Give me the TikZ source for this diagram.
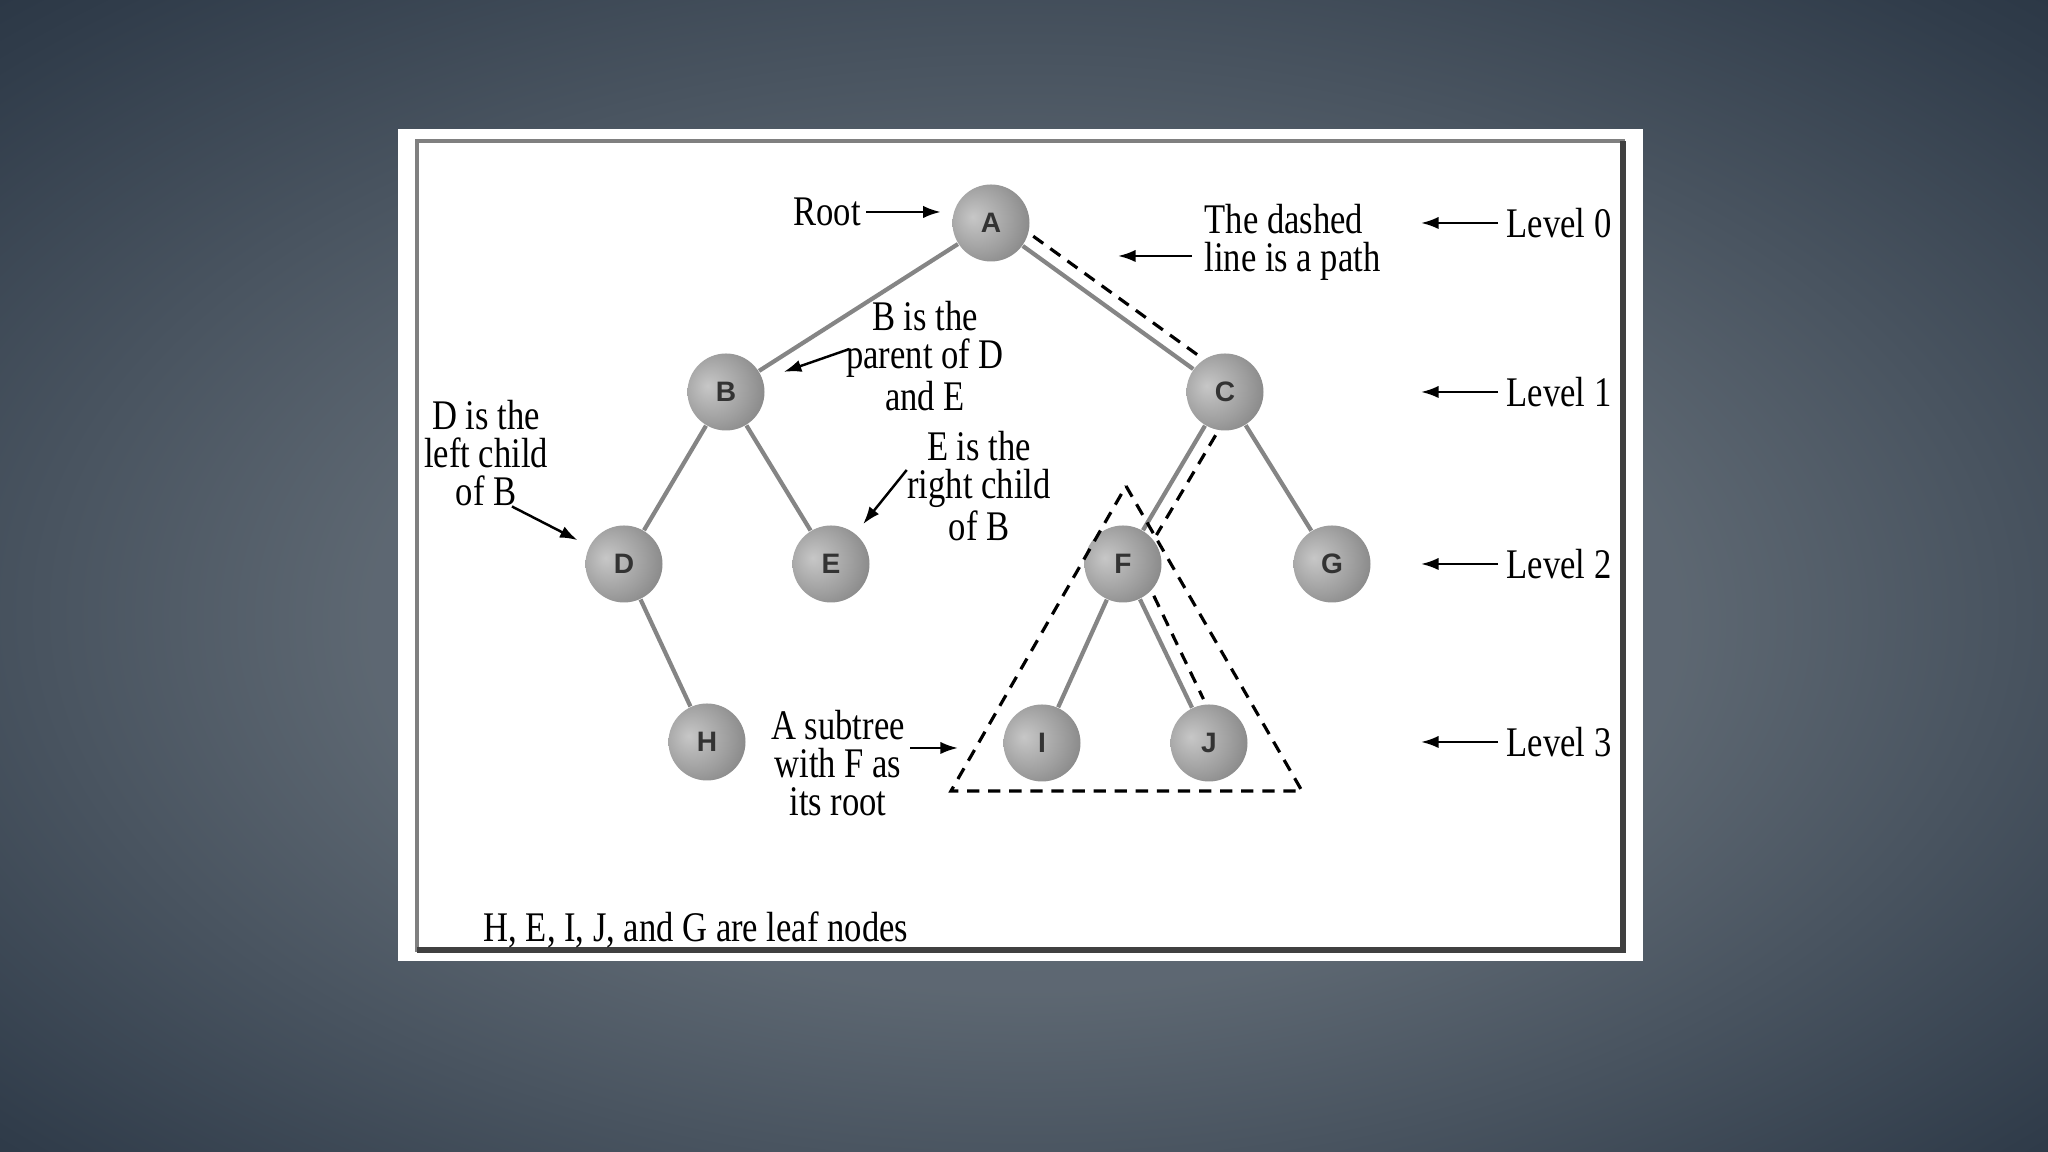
\documentclass[tikz,border=0pt]{standalone}
\usepackage{fontspec}
\usetikzlibrary{arrows.meta,calc,positioning}
\setmainfont{Liberation Serif}
\newfontfamily\notefont[FakeStretch=0.82]{Liberation Serif}
\newfontfamily\ballfont{Liberation Sans}
\definecolor{slideedge}{RGB}{16,28,43}
\definecolor{slidemid}{RGB}{48,60,74}
\definecolor{slidelight}{RGB}{98,108,118}
\colorlet{branch gray}{black!48}
\pgfdeclareradialshading{slide}{\pgfpoint{0bp}{-3bp}}{color(0bp)=(slidelight); color(16bp)=(slidelight!90!slidemid); color(34bp)=(slidemid); color(50bp)=(slideedge)}
\pgfdeclareradialshading{sphere}{\pgfpoint{-12bp}{4bp}}{color(0bp)=(black!22); color(22bp)=(black!38); color(42bp)=(black!54); color(52bp)=(black!64); color(66bp)=(black!64)}
\def\pathstep#1#2{\draw[pathline] ($(#1)!0.42cm!(#2)!0.14cm!90:(#2)$) -- ($(#2)!0.42cm!(#1)!0.14cm!-90:(#1)$);}
\tikzset{treenode/.style={circle, minimum size=0.77cm, inner sep=0pt, shading=sphere,
        font=\ballfont\bfseries\fontsize{8}{8}\selectfont, text=black!80},
    branch/.style={draw=branch gray, line width=1.2pt},
    pathline/.style={draw, line width=0.9pt, dash pattern=on 3.5pt off 2.5pt},
    note/.style={font=\notefont\fontsize{12}{10.8}\selectfont, align=center, inner sep=0pt},
    pointer/.style={draw, line width=0.7pt, -{Latex[length=5pt,width=3.5pt]}}}

\begin{document}
\begin{tikzpicture}
    \useasboundingbox (0,0) rectangle (20.48,11.52);
    \shade[shading=slide] (0,0) rectangle (20.48,11.52);
    \fill[white] (3.98,1.91) rectangle (16.43,10.23);
    \draw[black!50, line width=1.2pt] (4.17,2.02) rectangle (16.23,10.11);
    \draw[black!75, line width=1.5pt] (4.17,2.02) -- (16.23,2.02) -- (16.23,10.11);

    \node[treenode] (A) at (9.91,9.29) {A};
    \node[treenode] (B) at (7.26,7.60) {B};
    \node[treenode] (C) at (12.25,7.60) {C};
    \node[treenode] (D) at (6.24,5.88) {D};
    \node[treenode] (E) at (8.31,5.88) {E};
    \node[treenode] (F) at (11.23,5.88) {F};
    \node[treenode] (G) at (13.32,5.88) {G};
    \node[treenode] (H) at (7.07,4.10) {H};
    \node[treenode] (I) at (10.42,4.09) {I};
    \node[treenode] (J) at (12.09,4.09) {J};
    \foreach \p/\c in {A/B,A/C,B/D,B/E,C/F,C/G,D/H,F/I,F/J}
        \draw[branch] (\p) -- (\c);

    \pathstep{A}{C}
    \pathstep{C}{F}
    \pathstep{F}{J}
    \coordinate (subtop) at (11.26,6.66);
    \coordinate (subright) at (13.02,3.61);
    \coordinate (subleft) at (9.51,3.61);
    \draw[pathline] (subtop) -- (subright) -- (subleft) -- cycle;

    \node[note] (root) at (8.27,9.40) {Root};
    \draw[pointer, shorten <=0.05cm, shorten >=0.11cm] (root) -- (root -| A.west);
    \node[note, align=left, anchor=west] (pathnote) at (12.04,9.10) {The dashed\\line is a path};
    \coordinate (pathtip) at (11.18,8.96);
    \draw[pointer, shorten <=0.12cm] (pathnote.west |- pathtip) -- (pathtip);
    \node[note] (parentnote) at (9.25,7.96) {B is the\\parent of D\\and E};
    \draw[pointer, shorten >=0.22cm] ([shift={(0.04,0.07)}]parentnote.west) -- (B);
    \node[note] (leftnote) at (4.86,6.99) {D is the\\left child\\of B};
    \draw[pointer, shorten >=0.13cm] ([xshift=0.26cm]leftnote.south) -- (D);
    \node[note] (rightnote) at (9.79,6.66) {E is the\\right child\\of B};
    \draw[pointer, shorten >=0.12cm] ([yshift=0.16cm]rightnote.west) -- (E);
    \node[note] (subnote) at (8.38,3.89) {A subtree\\with F as\\its root};
    \coordinate (subtip) at (9.58,4.04);
    \draw[pointer, shorten <=0.05cm] ([yshift=0.15cm]subnote.east) -- (subtip);
    \node[note, anchor=west] (leafnote) at (4.83,2.22) {H, E, I, J, and G are leaf nodes};

    \foreach \lv/\y in {0/9.29,1/7.60,2/5.88,3/4.10} {
        \node[note, anchor=west] (level\lv) at (15.06,\y) {Level \lv};
        \coordinate (leveltip\lv) at (14.21,\y);
        \draw[pointer, shorten <=0.08cm] (level\lv) -- (leveltip\lv);
    }
\end{tikzpicture}
\end{document}
